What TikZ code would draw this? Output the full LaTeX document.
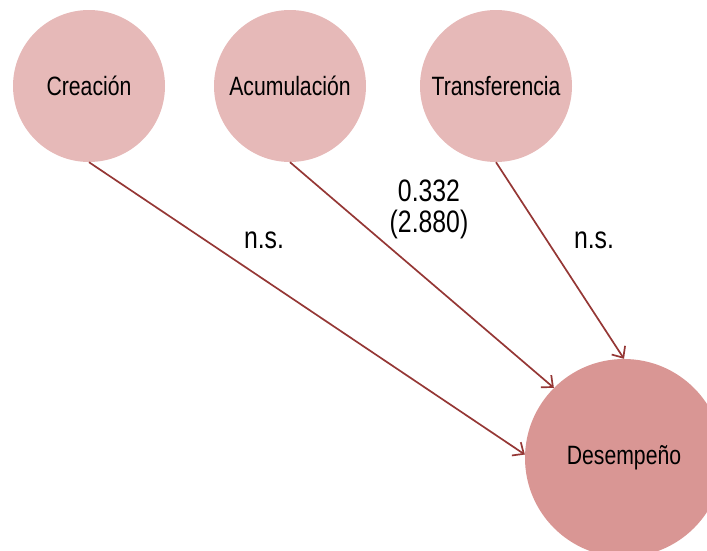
\documentclass[tikz,border=0pt]{standalone}
\usepackage{fontspec}
\setmainfont{Liberation Sans}[FakeStretch=0.8]
\usetikzlibrary{arrows.meta}
\definecolor{construct}{HTML}{E6B9B8}
\definecolor{outcome}{HTML}{D99694}
\definecolor{pathline}{HTML}{953735}
\begin{document}
\begin{tikzpicture}[x=1pt,y=-1pt,
  latent/.style={circle,fill=construct,inner sep=0pt,minimum size=152pt,
    font=\fontsize{26.5}{30}\selectfont},
  target/.style={latent,fill=outcome,minimum size=198pt},
  path/.style={draw=pathline,line width=1.7pt,
    -{Straight Barb[length=9pt,width=16pt,line width=1.7pt]}},
  coef/.style={font=\fontsize{31}{31}\selectfont,align=center,inner sep=0pt}]
\useasboundingbox (0,0) rectangle (707,550);
\node[latent] (cre) at (89,86) {Creación};
\node[latent] (acu) at (290,86) {Acumulación};
\node[latent] (tra) at (496,86) {Transferencia};
\node[target] (des) at (624,458) {Desempeño};
\draw[path] (cre.south) -- (des.178);
\draw[path] (acu.south) -- (des.north west);
\draw[path] (tra.south) -- (des.north);
\node[coef] (l1) at (264,240) {n.s.};
\node[coef] (l2) at (429,209) {0.332\\(2.880)};
\node[coef] (l3) at (594,240) {n.s.};
\end{tikzpicture}
\end{document}
